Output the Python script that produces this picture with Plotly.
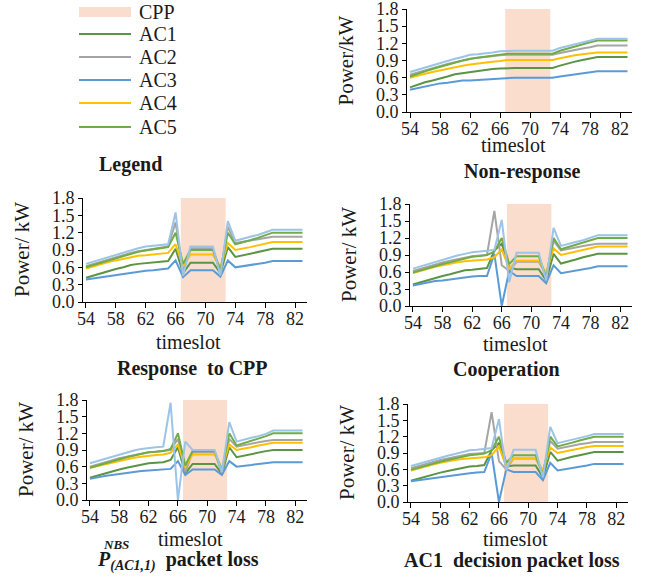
import plotly.graph_objects as go

# ---------------- data ----------------
timeslots = [54, 55, 56, 57, 58, 59, 60, 61, 62, 63, 64, 65, 66, 67, 68, 69,
             70, 71, 72, 73, 74, 75, 76, 77, 78, 79, 80, 81, 82, 83]
x_ticks = [54, 58, 62, 66, 70, 74, 78, 82]
y_ticks = [0.0, 0.3, 0.6, 0.9, 1.2, 1.5, 1.8]
cpp_start = 66.7
cpp_end = 72.7
y_max = 1.8

series_names = ["AC1", "AC2", "AC3", "AC4", "AC5", "AC6"]
legend_names = ["AC1", "AC2", "AC3", "AC4", "AC5"]

# Non-response
nr_ac1 = [0.43, 0.48, 0.52, 0.55, 0.58, 0.62, 0.66, 0.68, 0.70, 0.72, 0.73, 0.75, 0.76, 0.77, 0.77, 0.77, 0.77, 0.77, 0.77, 0.77, 0.81, 0.85, 0.88, 0.91, 0.94, 0.96, 0.96, 0.96, 0.96, 0.96]
nr_ac2 = [0.65, 0.69, 0.73, 0.77, 0.80, 0.84, 0.87, 0.90, 0.93, 0.95, 0.96, 0.98, 0.99, 1.00, 1.00, 1.00, 1.00, 1.00, 1.00, 1.00, 1.03, 1.06, 1.09, 1.11, 1.13, 1.16, 1.16, 1.16, 1.16, 1.16]
nr_ac3 = [0.39, 0.42, 0.45, 0.48, 0.50, 0.51, 0.53, 0.55, 0.55, 0.56, 0.57, 0.58, 0.59, 0.60, 0.60, 0.60, 0.60, 0.60, 0.60, 0.60, 0.62, 0.64, 0.66, 0.68, 0.69, 0.71, 0.71, 0.71, 0.71, 0.71]
nr_ac4 = [0.60, 0.64, 0.67, 0.70, 0.73, 0.76, 0.79, 0.81, 0.83, 0.85, 0.86, 0.88, 0.89, 0.91, 0.91, 0.91, 0.91, 0.91, 0.91, 0.91, 0.94, 0.97, 0.99, 1.01, 1.03, 1.04, 1.04, 1.04, 1.04, 1.04]
nr_ac5 = [0.62, 0.67, 0.71, 0.75, 0.79, 0.83, 0.87, 0.90, 0.93, 0.95, 0.97, 0.99, 1.01, 1.02, 1.02, 1.02, 1.02, 1.02, 1.02, 1.02, 1.07, 1.11, 1.15, 1.19, 1.22, 1.25, 1.25, 1.25, 1.25, 1.25]
nr_ac6 = [0.70, 0.74, 0.78, 0.82, 0.86, 0.89, 0.93, 0.96, 1.00, 1.01, 1.02, 1.04, 1.06, 1.07, 1.07, 1.07, 1.07, 1.07, 1.07, 1.07, 1.12, 1.15, 1.19, 1.22, 1.25, 1.28, 1.28, 1.28, 1.28, 1.28]

# Response to CPP
rc_ac1 = [0.42, 0.46, 0.50, 0.54, 0.57, 0.60, 0.64, 0.66, 0.67, 0.68, 0.69, 0.71, 0.92, 0.50, 0.68, 0.68, 0.68, 0.68, 0.50, 0.95, 0.78, 0.81, 0.84, 0.87, 0.90, 0.92, 0.92, 0.92, 0.92, 0.92]
rc_ac2 = [0.62, 0.66, 0.70, 0.74, 0.78, 0.82, 0.85, 0.88, 0.90, 0.92, 0.94, 0.96, 1.38, 0.52, 0.93, 0.93, 0.93, 0.93, 0.50, 1.30, 1.02, 1.04, 1.06, 1.08, 1.10, 1.13, 1.13, 1.13, 1.13, 1.13]
rc_ac3 = [0.39, 0.41, 0.43, 0.45, 0.47, 0.49, 0.50, 0.52, 0.54, 0.55, 0.56, 0.58, 0.72, 0.43, 0.55, 0.55, 0.55, 0.55, 0.44, 0.72, 0.60, 0.62, 0.63, 0.65, 0.68, 0.71, 0.71, 0.71, 0.71, 0.71]
rc_ac4 = [0.58, 0.62, 0.66, 0.69, 0.72, 0.75, 0.78, 0.80, 0.81, 0.82, 0.83, 0.85, 1.00, 0.62, 0.82, 0.82, 0.82, 0.82, 0.60, 1.02, 0.90, 0.92, 0.95, 0.98, 1.01, 1.04, 1.04, 1.04, 1.04, 1.04]
rc_ac5 = [0.60, 0.64, 0.68, 0.72, 0.76, 0.80, 0.84, 0.87, 0.89, 0.91, 0.93, 0.95, 1.20, 0.66, 0.90, 0.90, 0.90, 0.90, 0.55, 1.20, 1.00, 1.03, 1.07, 1.11, 1.15, 1.20, 1.20, 1.20, 1.20, 1.20]
rc_ac6 = [0.66, 0.70, 0.74, 0.78, 0.82, 0.86, 0.90, 0.93, 0.96, 0.97, 0.98, 1.00, 1.55, 0.45, 0.96, 0.96, 0.96, 0.96, 0.46, 1.40, 1.06, 1.10, 1.13, 1.16, 1.20, 1.25, 1.25, 1.25, 1.25, 1.25]

# Cooperation
co_ac1 = [0.38, 0.42, 0.46, 0.50, 0.53, 0.56, 0.60, 0.63, 0.64, 0.65, 0.67, 0.98, 1.10, 0.68, 0.65, 0.65, 0.65, 0.65, 0.45, 0.92, 0.75, 0.78, 0.82, 0.86, 0.89, 0.92, 0.92, 0.92, 0.92, 0.92]
co_ac2 = [0.62, 0.66, 0.70, 0.74, 0.77, 0.80, 0.83, 0.86, 0.88, 0.89, 0.90, 1.68, 0.72, 0.62, 0.78, 0.78, 0.78, 0.78, 0.55, 1.15, 0.98, 1.01, 1.04, 1.06, 1.08, 1.10, 1.10, 1.10, 1.10, 1.10]
co_ac3 = [0.36, 0.39, 0.42, 0.44, 0.45, 0.47, 0.49, 0.51, 0.52, 0.53, 0.53, 0.92, 0.00, 0.62, 0.53, 0.53, 0.53, 0.53, 0.40, 0.72, 0.58, 0.60, 0.62, 0.64, 0.67, 0.70, 0.70, 0.70, 0.70, 0.70]
co_ac4 = [0.58, 0.62, 0.66, 0.69, 0.72, 0.75, 0.77, 0.79, 0.80, 0.81, 0.82, 0.86, 1.00, 0.66, 0.80, 0.80, 0.80, 0.80, 0.58, 1.02, 0.90, 0.93, 0.96, 0.99, 1.02, 1.05, 1.05, 1.05, 1.05, 1.05]
co_ac5 = [0.59, 0.63, 0.67, 0.71, 0.74, 0.77, 0.80, 0.84, 0.87, 0.88, 0.90, 0.96, 1.20, 0.74, 0.88, 0.88, 0.88, 0.88, 0.50, 1.20, 1.00, 1.04, 1.08, 1.12, 1.16, 1.20, 1.20, 1.20, 1.20, 1.20]
co_ac6 = [0.66, 0.70, 0.74, 0.78, 0.82, 0.86, 0.89, 0.92, 0.95, 0.96, 0.97, 0.99, 1.52, 0.42, 0.94, 0.94, 0.94, 0.94, 0.45, 1.38, 1.06, 1.10, 1.13, 1.16, 1.20, 1.25, 1.25, 1.25, 1.25, 1.25]

# P(AC1,1) packet loss
pl_ac1 = [0.40, 0.44, 0.48, 0.52, 0.55, 0.58, 0.61, 0.64, 0.66, 0.67, 0.68, 0.72, 0.95, 0.48, 0.65, 0.65, 0.65, 0.65, 0.47, 0.95, 0.77, 0.80, 0.83, 0.86, 0.88, 0.90, 0.90, 0.90, 0.90, 0.90]
pl_ac2 = [0.60, 0.64, 0.68, 0.72, 0.75, 0.78, 0.81, 0.84, 0.86, 0.87, 0.88, 0.90, 1.10, 0.50, 0.86, 0.86, 0.86, 0.86, 0.48, 1.10, 0.96, 0.99, 1.02, 1.04, 1.06, 1.08, 1.08, 1.08, 1.08, 1.08]
pl_ac3 = [0.38, 0.41, 0.43, 0.45, 0.47, 0.48, 0.50, 0.52, 0.53, 0.54, 0.55, 0.56, 0.70, 0.45, 0.55, 0.55, 0.55, 0.55, 0.45, 0.70, 0.60, 0.61, 0.63, 0.65, 0.67, 0.68, 0.68, 0.68, 0.68, 0.68]
pl_ac4 = [0.58, 0.61, 0.65, 0.68, 0.71, 0.74, 0.76, 0.78, 0.80, 0.81, 0.82, 0.85, 1.00, 0.60, 0.82, 0.82, 0.82, 0.82, 0.58, 1.00, 0.90, 0.92, 0.95, 0.98, 1.01, 1.03, 1.03, 1.03, 1.03, 1.03]
pl_ac5 = [0.58, 0.62, 0.66, 0.70, 0.73, 0.77, 0.80, 0.83, 0.86, 0.87, 0.88, 0.92, 1.20, 0.62, 0.88, 0.88, 0.88, 0.88, 0.52, 1.20, 0.98, 1.02, 1.06, 1.10, 1.15, 1.20, 1.20, 1.20, 1.20, 1.20]
pl_ac6 = [0.66, 0.70, 0.74, 0.78, 0.82, 0.86, 0.89, 0.92, 0.94, 0.95, 0.96, 1.75, 0.00, 1.05, 0.90, 0.90, 0.90, 0.90, 0.50, 1.40, 1.05, 1.09, 1.12, 1.15, 1.19, 1.25, 1.25, 1.25, 1.25, 1.25]

# AC1 decision packet loss
ad_ac1 = [0.39, 0.43, 0.47, 0.51, 0.54, 0.57, 0.60, 0.63, 0.65, 0.66, 0.68, 0.95, 1.08, 0.65, 0.67, 0.67, 0.67, 0.67, 0.45, 0.92, 0.76, 0.80, 0.83, 0.86, 0.89, 0.92, 0.92, 0.92, 0.92, 0.92]
ad_ac2 = [0.62, 0.66, 0.70, 0.74, 0.77, 0.80, 0.83, 0.86, 0.88, 0.89, 0.90, 1.65, 0.75, 0.60, 0.80, 0.80, 0.80, 0.80, 0.55, 1.12, 0.98, 1.01, 1.04, 1.06, 1.08, 1.10, 1.10, 1.10, 1.10, 1.10]
ad_ac3 = [0.38, 0.40, 0.42, 0.44, 0.46, 0.48, 0.50, 0.52, 0.53, 0.54, 0.55, 0.90, 0.00, 0.60, 0.55, 0.55, 0.55, 0.55, 0.40, 0.72, 0.58, 0.60, 0.62, 0.64, 0.67, 0.70, 0.70, 0.70, 0.70, 0.70]
ad_ac4 = [0.58, 0.62, 0.66, 0.69, 0.72, 0.75, 0.77, 0.79, 0.80, 0.81, 0.82, 0.86, 1.02, 0.65, 0.80, 0.80, 0.80, 0.80, 0.58, 1.00, 0.90, 0.93, 0.96, 0.98, 1.01, 1.03, 1.03, 1.03, 1.03, 1.03]
ad_ac5 = [0.59, 0.63, 0.67, 0.71, 0.74, 0.77, 0.80, 0.84, 0.86, 0.87, 0.89, 0.95, 1.20, 0.72, 0.86, 0.86, 0.86, 0.86, 0.50, 1.20, 1.02, 1.05, 1.09, 1.13, 1.16, 1.20, 1.20, 1.20, 1.20, 1.20]
ad_ac6 = [0.66, 0.70, 0.74, 0.78, 0.81, 0.85, 0.88, 0.92, 0.95, 0.96, 0.97, 0.99, 1.52, 0.58, 0.96, 0.96, 0.96, 0.96, 0.45, 1.38, 1.08, 1.11, 1.14, 1.17, 1.21, 1.25, 1.25, 1.25, 1.25, 1.25]

# ---------------- style / layout ----------------
W, H = 652, 580
FONT = "Liberation Serif"
TXT = "#1a1a1a"
colors = {"AC1": "#5A9444", "AC2": "#A5A5A5", "AC3": "#5B9BD5",
          "AC4": "#FFC000", "AC5": "#70AD47", "AC6": "#9DC3E6"}
cpp_fill = "rgba(247,200,172,0.62)"

# series, title, y-label, pixel box (x_left, x_right, y_top, y_bottom),
# title centre (x, y), "timeslot" centre (x, y)
panels = [
    ([nr_ac1, nr_ac2, nr_ac3, nr_ac4, nr_ac5, nr_ac6], "Non-response", "Power/kW",
     (407, 632, 9, 112), (522, 171), (513, 145)),
    ([rc_ac1, rc_ac2, rc_ac3, rc_ac4, rc_ac5, rc_ac6], "Response  to CPP", "Power/ kW",
     (83, 307, 198, 302), (192, 368), (188, 342)),
    ([co_ac1, co_ac2, co_ac3, co_ac4, co_ac5, co_ac6], "Cooperation", "Power/ kW",
     (410, 632, 204, 306), (507, 369), (515, 344)),
    ([pl_ac1, pl_ac2, pl_ac3, pl_ac4, pl_ac5, pl_ac6], None, "Power/ kW",
     (87, 307, 400, 500), (178, 561), (190, 539)),
    ([ad_ac1, ad_ac2, ad_ac3, ad_ac4, ad_ac5, ad_ac6], "AC1  decision packet loss", "Power/ kW",
     (408, 628, 404, 502), (512, 560), (515, 539)),
]

fig = go.Figure()
layout = dict(
    template="none",
    width=W, height=H, margin=dict(l=0, r=0, t=0, b=0, autoexpand=False),
    paper_bgcolor="white", plot_bgcolor="white",
    font=dict(family=FONT, color=TXT, size=17),
    showlegend=False,
)
shapes = []
annotations = []


def paper_ann(text, px, py, size, anchor="center", angle=0):
    return dict(text=text, x=px / W, y=1 - py / H, xref="paper", yref="paper",
                xanchor=anchor, yanchor="middle", showarrow=False, textangle=angle,
                font=dict(family=FONT, size=size, color=TXT))


for i, (series, title, ylabel, box, tpos, xtpos) in enumerate(panels):
    n = "" if i == 0 else str(i + 1)
    xl, xr, yt, yb = box
    layout["xaxis" + n] = dict(
        domain=[xl / W, xr / W], range=[53.6, 83.6], anchor="y" + n, automargin=False,
        tickmode="array", tickvals=x_ticks, ticks="outside", ticklen=5,
        tickcolor="black", showline=True, linecolor="black", linewidth=1,
        showgrid=False, zeroline=False, ticklabelstandoff=-5,
        tickfont=dict(family=FONT, size=18, color=TXT),
    )
    layout["yaxis" + n] = dict(
        domain=[1 - yb / H, 1 - yt / H], range=[0, y_max], anchor="x" + n, automargin=False,
        tickmode="array", tickvals=y_ticks, tickformat=".1f", ticks="outside",
        ticklen=4, tickcolor="black", showline=True, linecolor="black",
        linewidth=1, showgrid=False, zeroline=False, ticklabeloverflow="allow",
        tickfont=dict(family=FONT, size=18, color=TXT),
    )

    shapes.append(dict(
        type="rect", xref="x" + n, yref="y" + n, x0=cpp_start, x1=cpp_end,
        y0=0, y1=y_max, fillcolor=cpp_fill, line=dict(width=0), layer="below",
    ))

    for name, vals in zip(series_names, series):
        fig.add_trace(go.Scatter(
            x=timeslots, y=vals, mode="lines", name=name,
            line=dict(color=colors[name], width=2),
            xaxis="x" + n, yaxis="y" + n,
        ))

    # axis titles
    annotations.append(paper_ann(ylabel, xl - 61, (yt + yb) / 2, 21, angle=-90))
    annotations.append(paper_ann("timeslot", xtpos[0], xtpos[1], 20))
    if title is not None:
        annotations.append(paper_ann("<b>" + title + "</b>", tpos[0], tpos[1], 20))

# special title for panel 4 with stacked super/subscripts
annotations.append(paper_ann(
    "<b><i>P</i></b><sub><b><i>(AC1,1)</i></b></sub><b>  packet loss</b>", 178, 561, 20))
annotations.append(paper_ann("<b><i>NBS</i></b>", 116, 544, 13))

# ---- legend panel (keys + labels) ----
leg_x0, leg_x1, leg_text_x = 79, 131, 137
leg_rows = [12, 34, 57, 80, 103, 127]
shapes.append(dict(type="rect", xref="paper", yref="paper",
                   x0=leg_x0 / W, x1=leg_x1 / W,
                   y0=1 - (leg_rows[0] + 5) / H, y1=1 - (leg_rows[0] - 5) / H,
                   fillcolor=cpp_fill, line=dict(width=0)))
annotations.append(paper_ann("CPP", leg_text_x, leg_rows[0], 20, anchor="left"))
for row_y, name in zip(leg_rows[1:], legend_names):
    shapes.append(dict(type="line", xref="paper", yref="paper",
                       x0=leg_x0 / W, x1=leg_x1 / W, y0=1 - row_y / H, y1=1 - row_y / H,
                       line=dict(color=colors[name], width=2)))
    annotations.append(paper_ann(name, leg_text_x, row_y, 20, anchor="left"))
annotations.append(paper_ann("<b>Legend</b>", 130, 164, 20))

layout["shapes"] = shapes
layout["annotations"] = annotations
fig.update_layout(**layout)
fig.write_html("out.html", config={"displayModeBar": False},
               post_script="document.body.style.margin='0';")
